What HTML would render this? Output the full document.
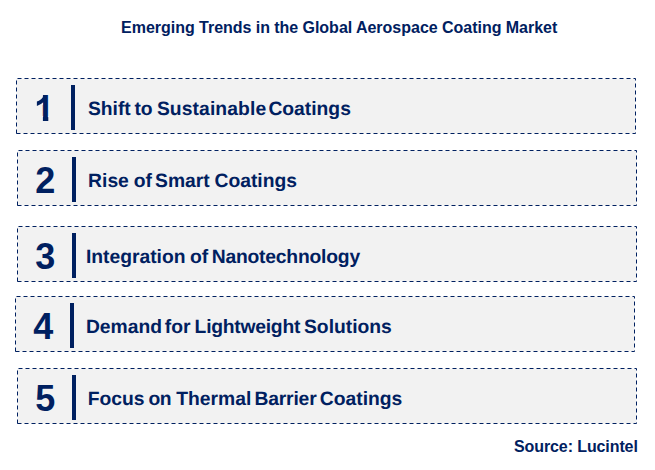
<!DOCTYPE html>
<html>
<head>
<meta charset="utf-8">
<style>
html,body{margin:0;padding:0;background:#fff;}
body{width:655px;height:470px;position:relative;overflow:hidden;font-family:"Liberation Sans",sans-serif;color:#002060;}
svg{position:absolute;left:0;top:0;}
.t{position:absolute;white-space:nowrap;font-weight:bold;line-height:1;}
.title{font-size:16px;left:121px;top:20px;word-spacing:-0.2px;}
.src{font-size:16px;left:514px;top:439px;letter-spacing:-0.1px;}
</style>
</head>
<body>
<svg width="655" height="470" viewBox="0 0 655 470">
  <g fill="#f2f2f2" stroke="#002060" stroke-width="1" stroke-dasharray="4 3">
    <path d="M16.5 133.5V78.5H635.5V133.5Z"/>
    <path d="M17.5 205.5V150.5H636.5V205.5Z"/>
    <path d="M17.5 281.5V226.5H636.5V281.5Z"/>
    <path d="M15.5 351.5V296.5H634.5V351.5Z"/>
    <path d="M17.5 423.5V368.5H636.5V423.5Z"/>
  </g>
  <g fill="#002060">
    <rect x="71" y="85" width="4" height="45"/>
    <rect x="72" y="157" width="4" height="45"/>
    <rect x="72" y="233" width="4" height="45"/>
    <rect x="70" y="303" width="4" height="45"/>
    <rect x="72" y="375" width="4" height="45"/>
  </g>
  <g id="nums" fill="#002060" font-family="'Liberation Sans', sans-serif" font-weight="bold" font-size="36">
    <text x="34.6" y="121">1</text>
    <text x="35.2" y="193">2</text>
    <text x="35.2" y="269">3</text>
    <text x="33.2" y="339">4</text>
    <text x="35.2" y="411">5</text>
  </g>
  <g id="one-fix">
    <rect x="35" y="116" width="7.9" height="6" fill="#f2f2f2"/>
    <rect x="48.3" y="116" width="7" height="6" fill="#f2f2f2"/>
    <rect x="35" y="93" width="7.9" height="12" fill="#f2f2f2"/>
    <path d="M43.29 102.3Q40.57 104.84 36.88 106.06V101.55Q38.82 100.92 41.1 99.14Q43.38 97.37 44.23 95H46V102.3Z" fill="#002060"/>
  </g>
  <g id="labels" text-rendering="geometricPrecision" fill="#002060" font-family="'Liberation Sans', sans-serif" font-weight="bold" font-size="19.3">
    <text y="115"><tspan x="87.9">Shift </tspan><tspan x="134.4">to </tspan><tspan x="156.9" letter-spacing="0.1">Sustainable </tspan><tspan x="268.4">Coatings</tspan></text>
    <text y="187"><tspan x="88.1">Rise </tspan><tspan x="133.7">of </tspan><tspan x="155.1">Smart </tspan><tspan x="214.5">Coatings</tspan></text>
    <text y="263"><tspan x="85.9">Integration </tspan><tspan x="189.9">of </tspan><tspan x="211.7" letter-spacing="-0.2">Nanotechnology</tspan></text>
    <text y="333"><tspan x="85.9">Demand </tspan><tspan x="164.8">for </tspan><tspan x="194.6" letter-spacing="-0.24">Lightweight </tspan><tspan x="304.0">Solutions</tspan></text>
    <text y="405"><tspan x="87.8">Focus </tspan><tspan x="148.4" letter-spacing="-0.5">on </tspan><tspan x="176.3">Thermal </tspan><tspan x="254.4" letter-spacing="-0.16">Barrier </tspan><tspan x="319.8">Coatings</tspan></text>
  </g>
</svg>
<div class="t title">Emerging Trends in the Global Aerospace Coating Market</div>
<div class="t src">Source: Lucintel</div>
</body>
</html>
